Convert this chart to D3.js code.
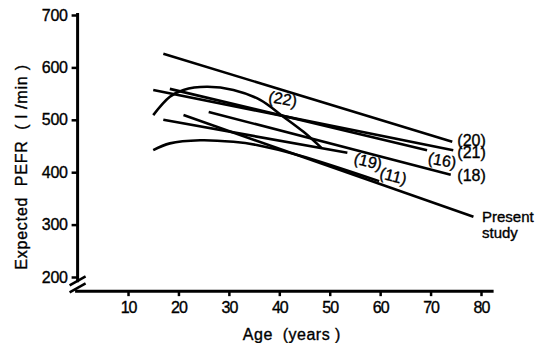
<!DOCTYPE html>
<html>
<head>
<meta charset="utf-8">
<script src="https://cdn.jsdelivr.net/npm/d3@7"></script>
<style>
  body { margin: 0; background: #fff; }
  svg text { font-family: "Liberation Sans", Arial, sans-serif; fill: #000; stroke: #000; stroke-width: 0.35px; white-space: pre; }
</style>
</head>
<body>
<svg id="chart" width="549" height="343"></svg>
<script>
// straight regression lines, one entry per study
const lineStudies = ['(20)', '(21)', '(16)', '(18)', '(19)', 'Present study'];
const lineStartAge = [17, 15, 18.3, 26, 17, 21];
const lineStartPefr = [626, 557, 559, 515, 500, 509];
const lineEndAge = [74.3, 74.5, 69.3, 74, 53.5, 78.5];
const lineEndPefr = [458, 442, 442, 395, 437, 315];

// curved (quadratic) predictions
const curve22Age = [15, 18.3, 21, 25.6, 30.9, 36.2, 40.8, 44.8, 48.4];
const curve22Pefr = [509, 544, 557, 563, 557, 538, 506, 477, 446];
const curve11Age = [15, 18.3, 24.3, 30.9, 35.5, 44, 59.8];
const curve11Pefr = [442, 455, 461, 458, 452, 432, 383];

// study labels
const labelText = ['(22)', '(20)', '(21)', '(16)', '(18)', '(19)', '(11)'];
const labelAge = [40.7, 75.3, 75.3, 72.3, 75.3, 57.6, 62.6];
const labelPefr = [540, 460, 437, 423, 393, 421, 393];
const labelAngle = [10, 0, 0, 10, 0, 14, 14];

const xTicks = [10, 20, 30, 40, 50, 60, 70, 80];
const yTicks = [200, 300, 400, 500, 600, 700];

const svg = d3.select('#chart');
const x = d3.scaleLinear().domain([0, 80]).range([77.6, 481]);
const y = d3.scaleLinear().domain([200, 700]).range([277, 15]);
const xAxisPefr = 173;

// y axis
const yAxis = svg.append('g')
    .attr('transform', 'translate(' + x(0) + ',0)')
    .call(d3.axisLeft(y).tickValues(yTicks).tickSize(6).tickPadding(4));
yAxis.select('.domain').remove();
yAxis.selectAll('.tick line').attr('stroke', '#000').attr('stroke-width', 2.5);
yAxis.selectAll('.tick text').style('font-size', '16px').attr('letter-spacing', '-0.3');
svg.append('line')
    .attr('x1', x(0)).attr('x2', x(0))
    .attr('y1', y(704)).attr('y2', y(190))
    .attr('stroke', '#000').attr('stroke-width', 3);

// x axis
const xAxis = svg.append('g')
    .attr('transform', 'translate(0,' + y(xAxisPefr) + ')')
    .call(d3.axisBottom(x).tickValues(xTicks).tickSize(5).tickPadding(5));
xAxis.select('.domain').remove();
xAxis.selectAll('.tick line').attr('stroke', '#000').attr('stroke-width', 2.5);
xAxis.selectAll('.tick text').style('font-size', '16px').attr('letter-spacing', '-1');
svg.append('line')
    .attr('x1', x(-0.5)).attr('x2', x(82.5))
    .attr('y1', y(xAxisPefr)).attr('y2', y(xAxisPefr))
    .attr('stroke', '#000').attr('stroke-width', 3);

// axis break
[0, 7].forEach(off => {
  svg.append('line')
    .attr('x1', x(0) - 8).attr('y1', y(184) + off)
    .attr('x2', x(0) + 8).attr('y2', y(184) + off - 9)
    .attr('stroke', '#000').attr('stroke-width', 2.5);
});

// axis titles
svg.append('text')
    .attr('transform', 'translate(27,' + y(410) + ') rotate(-90)')
    .attr('text-anchor', 'middle')
    .style('font-size', '16px')
    .attr('letter-spacing', '0.8')
    .text('Expected  PEFR  ( l /min )');
svg.append('text')
    .attr('x', x(42.5)).attr('y', 340)
    .attr('text-anchor', 'middle')
    .style('font-size', '16px')
    .attr('letter-spacing', '0.5')
    .text('Age  (years )');

const plot = svg.append('g')
    .attr('fill', 'none').attr('stroke', '#000').attr('stroke-width', 2.6);

// straight lines
plot.selectAll('.study')
    .data(lineStudies)
    .enter().append('line')
    .attr('class', 'study')
    .attr('x1', (d, i) => x(lineStartAge[i]))
    .attr('y1', (d, i) => y(lineStartPefr[i]))
    .attr('x2', (d, i) => x(lineEndAge[i]))
    .attr('y2', (d, i) => y(lineEndPefr[i]));

// curves
const curveLine = d3.line()
    .x(d => x(d[0]))
    .y(d => y(d[1]))
    .curve(d3.curveCatmullRom);
plot.append('path').attr('d', curveLine(d3.zip(curve22Age, curve22Pefr)));
plot.append('path').attr('d', curveLine(d3.zip(curve11Age, curve11Pefr)));

// labels
svg.selectAll('.lab')
    .data(labelText)
    .enter().append('text')
    .attr('class', 'lab')
    .attr('transform', (d, i) => 'translate(' + x(labelAge[i]) + ',' + y(labelPefr[i]) + ') rotate(' + labelAngle[i] + ')')
    .attr('text-anchor', (d, i) => labelAngle[i] ? 'middle' : 'start')
    .attr('dy', '0.35em')
    .style('font-size', '16px')
    .text(d => d);

const present = svg.append('text')
    .attr('x', x(80.2)).attr('y', y(315))
    .attr('dy', '0.35em')
    .style('font-size', '15px');
present.append('tspan').text('Present');
present.append('tspan').attr('x', x(80.2)).attr('dy', '16px').text('study');
</script>
</body>
</html>
